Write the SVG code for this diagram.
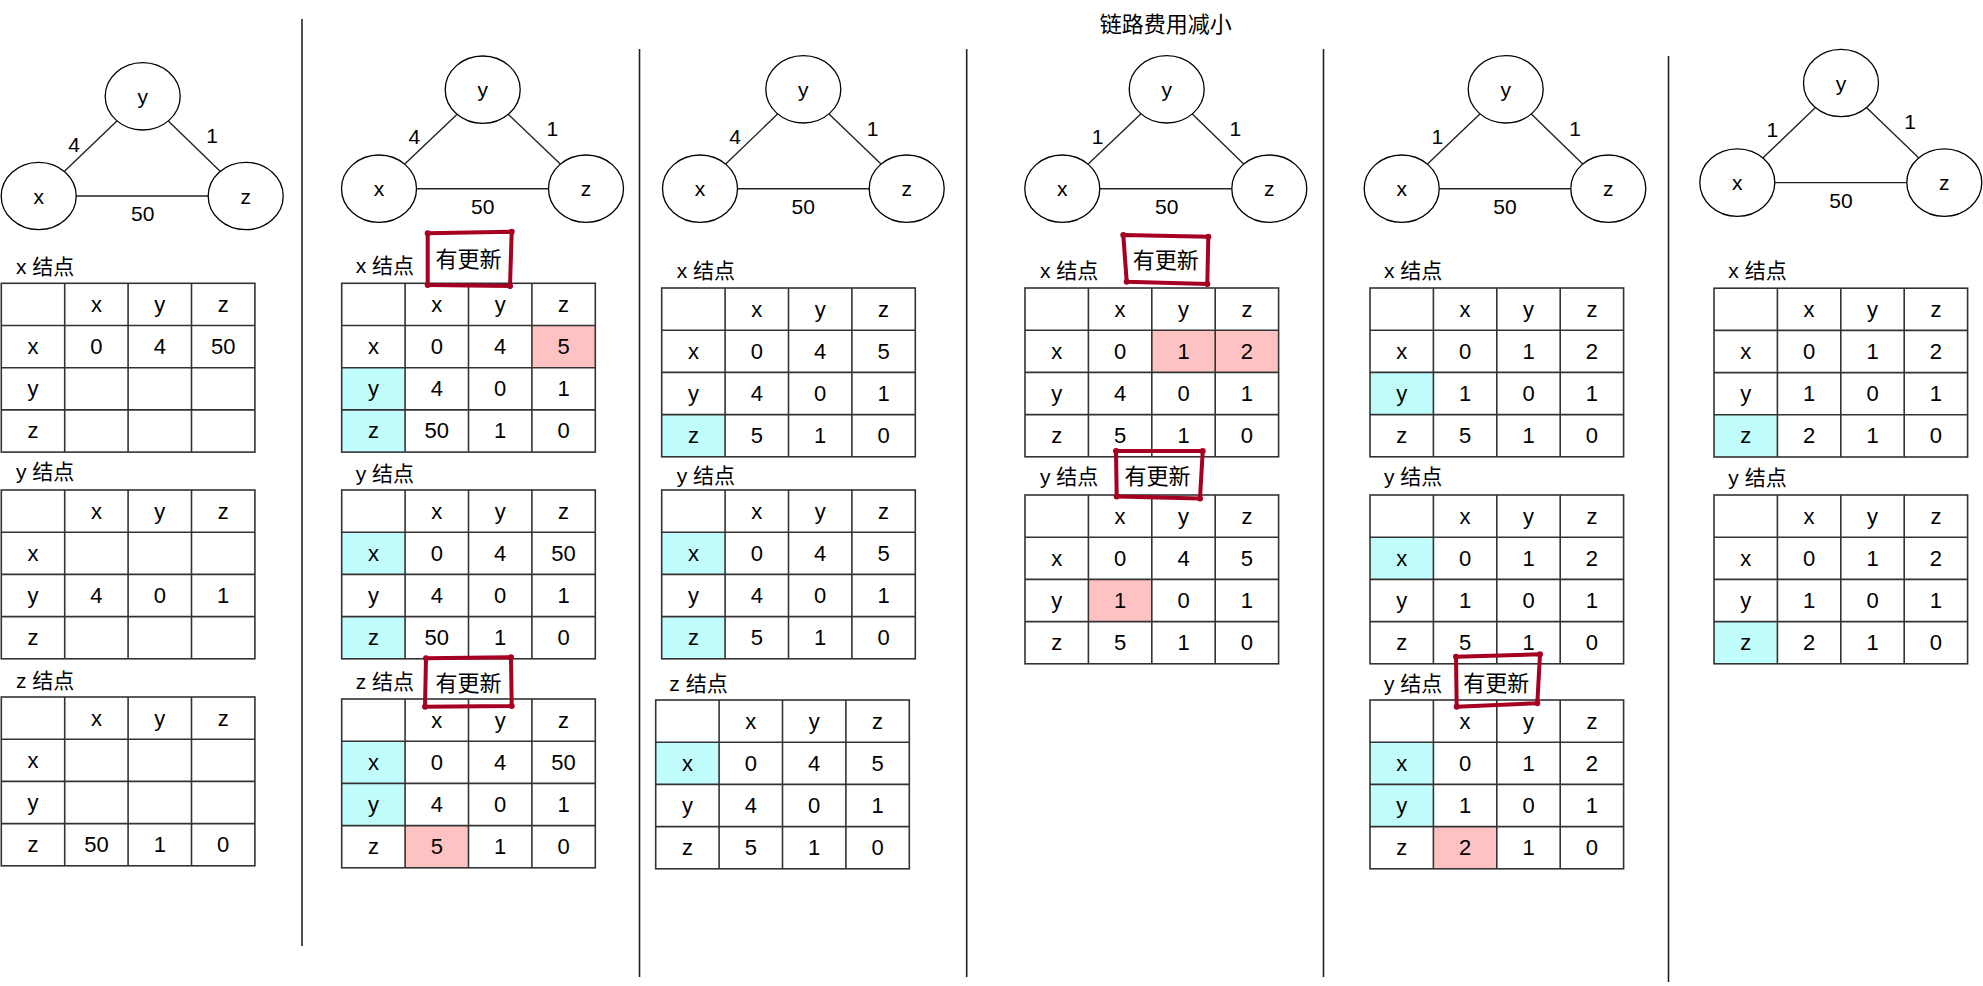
<svg xmlns="http://www.w3.org/2000/svg" xmlns:xlink="http://www.w3.org/1999/xlink" width="1983" height="986" viewBox="0 0 1983 986">
<style>
text{font-family:"Liberation Sans","Noto Sans CJK SC",sans-serif;fill:#000;}
.t{font-size:22px;text-anchor:middle;dominant-baseline:central;}
.n{font-size:21px;text-anchor:middle;dominant-baseline:central;}
.lbl{font-size:21px;dominant-baseline:central;}
.title{font-size:22px;text-anchor:middle;dominant-baseline:central;}
.upd{font-size:22px;text-anchor:middle;dominant-baseline:central;}
.node{fill:#fff;stroke:#000;stroke-width:1.3;}
.edge{stroke:#222;stroke-width:1.4;fill:none;}
.sep{stroke:#222;stroke-width:1.6;}
.grid{fill:none;stroke:#333;stroke-width:1.6;}
.cy{fill:#C2FDFD;}
.pk{fill:#FFC2C2;}
.box{fill:none;stroke:#A50021;stroke-width:4;stroke-linejoin:round;stroke-linecap:round;}
.dot{fill:#A50021;}
</style>
<defs>
<g id="grid">
<rect class="grid" x="0" y="0" width="253.6" height="168.8"/>
<path class="grid" d="M63.4 0V168.8M126.8 0V168.8M190.2 0V168.8M0 42.2H253.6M0 84.4H253.6M0 126.6H253.6"/>
</g>
</defs>
<rect width="1983" height="986" fill="#fff"/>

<text id="title" class="title" x="1165.7" y="24">链路费用减小</text>

<g id="separators">
<line class="sep" x1="302" y1="19" x2="302" y2="946"/>
<line class="sep" x1="639.5" y1="49" x2="639.5" y2="977"/>
<line class="sep" x1="966.7" y1="49" x2="966.7" y2="977"/>
<line class="sep" x1="1323.5" y1="49" x2="1323.5" y2="977"/>
<line class="sep" x1="1668.5" y1="56" x2="1668.5" y2="982"/>
</g>

<g id="connectors">
<line class="edge" x1="64.5" y1="171.3" x2="116.9" y2="121"/>
<line class="edge" x1="168.3" y1="121.1" x2="220.1" y2="171.2"/>
<line class="edge" x1="76.2" y1="196" x2="208.2" y2="196"/>
<text class="n" x="74" y="144">4</text>
<text class="n" x="212" y="135">1</text>
<text class="n" x="142.7" y="213">50</text>

<line class="edge" x1="404.8" y1="164" x2="456.9" y2="114.4"/>
<line class="edge" x1="508.4" y1="114.4" x2="560.3" y2="164"/>
<line class="edge" x1="416.5" y1="188.7" x2="548.5" y2="188.7"/>
<text class="n" x="414.3" y="136">4</text>
<text class="n" x="552.3" y="128">1</text>
<text class="n" x="482.7" y="206">50</text>

<line class="edge" x1="725.7" y1="164" x2="777.6" y2="114"/>
<line class="edge" x1="829" y1="114" x2="881" y2="164"/>
<line class="edge" x1="737.5" y1="188.7" x2="869.2" y2="188.7"/>
<text class="n" x="735" y="136.7">4</text>
<text class="n" x="872.7" y="128.3">1</text>
<text class="n" x="803.3" y="206.7">50</text>

<line class="edge" x1="1088.2" y1="164.1" x2="1140.8" y2="113.9"/>
<line class="edge" x1="1192.3" y1="114.1" x2="1243.7" y2="163.9"/>
<line class="edge" x1="1099.8" y1="188.7" x2="1231.8" y2="188.7"/>
<text class="n" x="1097.7" y="136.7">1</text>
<text class="n" x="1235.3" y="128.3">1</text>
<text class="n" x="1166.7" y="206.7">50</text>

<line class="edge" x1="1427.5" y1="164" x2="1479.9" y2="114"/>
<line class="edge" x1="1531.3" y1="114.1" x2="1582.7" y2="163.9"/>
<line class="edge" x1="1439.2" y1="188.7" x2="1570.8" y2="188.7"/>
<text class="n" x="1437.3" y="136.7">1</text>
<text class="n" x="1575" y="128.3">1</text>
<text class="n" x="1505" y="206.7">50</text>

<line class="edge" x1="1763.1" y1="157.8" x2="1815.2" y2="107.8"/>
<line class="edge" x1="1866.7" y1="107.8" x2="1918.6" y2="157.8"/>
<line class="edge" x1="1774.8" y1="182.6" x2="1906.8" y2="182.6"/>
<text class="n" x="1772.3" y="129.8">1</text>
<text class="n" x="1910" y="121">1</text>
<text class="n" x="1841" y="200.2">50</text>
</g>

<!-- Panel 1 -->
<g id="p1-node-y"><ellipse class="node" cx="142.7" cy="96.3" rx="37.5" ry="33.7"/><text class="n" x="142.7" y="96.3">y</text></g>
<g id="p1-node-x"><ellipse class="node" cx="38.7" cy="196" rx="37.5" ry="33.7"/><text class="n" x="38.7" y="196">x</text></g>
<g id="p1-node-z"><ellipse class="node" cx="245.7" cy="196" rx="37.5" ry="33.7"/><text class="n" x="245.7" y="196">z</text></g>
<text class="lbl" x="16" y="266">x 结点</text>
<text class="lbl" x="16" y="471.7">y 结点</text>
<text class="lbl" x="16" y="680">z 结点</text>

<g id="p1-table-x" transform="translate(1.3,283.3)">
<use href="#grid"/>
<text class="t" x="95.1" y="21.1">x</text><text class="t" x="158.5" y="21.1">y</text><text class="t" x="221.9" y="21.1">z</text>
<text class="t" x="31.7" y="63.3">x</text><text class="t" x="95.1" y="63.3">0</text><text class="t" x="158.5" y="63.3">4</text><text class="t" x="221.9" y="63.3">50</text>
<text class="t" x="31.7" y="105.5">y</text>
<text class="t" x="31.7" y="147.7">z</text>
</g>
<g id="p1-table-y" transform="translate(1.3,490)">
<use href="#grid"/>
<text class="t" x="95.1" y="21.1">x</text><text class="t" x="158.5" y="21.1">y</text><text class="t" x="221.9" y="21.1">z</text>
<text class="t" x="31.7" y="63.3">x</text>
<text class="t" x="31.7" y="105.5">y</text><text class="t" x="95.1" y="105.5">4</text><text class="t" x="158.5" y="105.5">0</text><text class="t" x="221.9" y="105.5">1</text>
<text class="t" x="31.7" y="147.7">z</text>
</g>
<g id="p1-table-z" transform="translate(1.3,697)">
<use href="#grid"/>
<text class="t" x="95.1" y="21.1">x</text><text class="t" x="158.5" y="21.1">y</text><text class="t" x="221.9" y="21.1">z</text>
<text class="t" x="31.7" y="63.3">x</text>
<text class="t" x="31.7" y="105.5">y</text>
<text class="t" x="31.7" y="147.7">z</text><text class="t" x="95.1" y="147.7">50</text><text class="t" x="158.5" y="147.7">1</text><text class="t" x="221.9" y="147.7">0</text>
</g>

<!-- Panel 2 -->
<g id="p2-node-y"><ellipse class="node" cx="482.7" cy="89.7" rx="37.5" ry="33.7"/><text class="n" x="482.7" y="89.7">y</text></g>
<g id="p2-node-x"><ellipse class="node" cx="379" cy="188.7" rx="37.5" ry="33.7"/><text class="n" x="379" y="188.7">x</text></g>
<g id="p2-node-z"><ellipse class="node" cx="586" cy="188.7" rx="37.5" ry="33.7"/><text class="n" x="586" y="188.7">z</text></g>
<text class="lbl" x="355.7" y="265">x 结点</text>
<text class="lbl" x="355.7" y="473">y 结点</text>
<text class="lbl" x="355.7" y="681.7">z 结点</text>

<g id="p2-table-x" transform="translate(341.7,283.3)">
<rect class="pk" x="190.2" y="42.2" width="63.4" height="42.2"/>
<rect class="cy" x="0" y="84.4" width="63.4" height="84.4"/>
<use href="#grid"/>
<text class="t" x="95.1" y="21.1">x</text><text class="t" x="158.5" y="21.1">y</text><text class="t" x="221.9" y="21.1">z</text>
<text class="t" x="31.7" y="63.3">x</text><text class="t" x="95.1" y="63.3">0</text><text class="t" x="158.5" y="63.3">4</text><text class="t" x="221.9" y="63.3">5</text>
<text class="t" x="31.7" y="105.5">y</text><text class="t" x="95.1" y="105.5">4</text><text class="t" x="158.5" y="105.5">0</text><text class="t" x="221.9" y="105.5">1</text>
<text class="t" x="31.7" y="147.7">z</text><text class="t" x="95.1" y="147.7">50</text><text class="t" x="158.5" y="147.7">1</text><text class="t" x="221.9" y="147.7">0</text>
</g>
<g id="p2-table-y" transform="translate(341.7,490)">
<rect class="cy" x="0" y="42.2" width="63.4" height="42.2"/>
<rect class="cy" x="0" y="126.6" width="63.4" height="42.2"/>
<use href="#grid"/>
<text class="t" x="95.1" y="21.1">x</text><text class="t" x="158.5" y="21.1">y</text><text class="t" x="221.9" y="21.1">z</text>
<text class="t" x="31.7" y="63.3">x</text><text class="t" x="95.1" y="63.3">0</text><text class="t" x="158.5" y="63.3">4</text><text class="t" x="221.9" y="63.3">50</text>
<text class="t" x="31.7" y="105.5">y</text><text class="t" x="95.1" y="105.5">4</text><text class="t" x="158.5" y="105.5">0</text><text class="t" x="221.9" y="105.5">1</text>
<text class="t" x="31.7" y="147.7">z</text><text class="t" x="95.1" y="147.7">50</text><text class="t" x="158.5" y="147.7">1</text><text class="t" x="221.9" y="147.7">0</text>
</g>
<g id="p2-table-z" transform="translate(341.7,699)">
<rect class="cy" x="0" y="42.2" width="63.4" height="84.4"/>
<rect class="pk" x="63.4" y="126.6" width="63.4" height="42.2"/>
<use href="#grid"/>
<text class="t" x="95.1" y="21.1">x</text><text class="t" x="158.5" y="21.1">y</text><text class="t" x="221.9" y="21.1">z</text>
<text class="t" x="31.7" y="63.3">x</text><text class="t" x="95.1" y="63.3">0</text><text class="t" x="158.5" y="63.3">4</text><text class="t" x="221.9" y="63.3">50</text>
<text class="t" x="31.7" y="105.5">y</text><text class="t" x="95.1" y="105.5">4</text><text class="t" x="158.5" y="105.5">0</text><text class="t" x="221.9" y="105.5">1</text>
<text class="t" x="31.7" y="147.7">z</text><text class="t" x="95.1" y="147.7">5</text><text class="t" x="158.5" y="147.7">1</text><text class="t" x="221.9" y="147.7">0</text>
</g>
<g id="p2-update-x">
<path class="box" d="M427.7 233.3L511.7 231.7L510 286L427.7 285Z"/>
<circle class="dot" cx="427.7" cy="233.3" r="3"/><circle class="dot" cx="511.7" cy="231.7" r="3"/><circle class="dot" cx="510" cy="286" r="3"/><circle class="dot" cx="427.7" cy="285" r="3"/>
<text class="upd" x="468.5" y="259.7">有更新</text>
</g>
<g id="p2-update-z">
<path class="box" d="M426 658.3L511 657.3L511.7 706L425 706.7Z"/>
<circle class="dot" cx="426" cy="658.3" r="3"/><circle class="dot" cx="511" cy="657.3" r="3"/><circle class="dot" cx="511.7" cy="706" r="3"/><circle class="dot" cx="425" cy="706.7" r="3"/>
<text class="upd" x="468.5" y="683">有更新</text>
</g>

<!-- Panel 3 -->
<g id="p3-node-y"><ellipse class="node" cx="803.3" cy="89.3" rx="37.5" ry="33.7"/><text class="n" x="803.3" y="89.3">y</text></g>
<g id="p3-node-x"><ellipse class="node" cx="700" cy="188.7" rx="37.5" ry="33.7"/><text class="n" x="700" y="188.7">x</text></g>
<g id="p3-node-z"><ellipse class="node" cx="906.7" cy="188.7" rx="37.5" ry="33.7"/><text class="n" x="906.7" y="188.7">z</text></g>
<text class="lbl" x="676.7" y="270.7">x 结点</text>
<text class="lbl" x="676.7" y="475">y 结点</text>
<text class="lbl" x="669.3" y="683.3">z 结点</text>

<g id="p3-table-x" transform="translate(661.7,288)">
<rect class="cy" x="0" y="126.6" width="63.4" height="42.2"/>
<use href="#grid"/>
<text class="t" x="95.1" y="21.1">x</text><text class="t" x="158.5" y="21.1">y</text><text class="t" x="221.9" y="21.1">z</text>
<text class="t" x="31.7" y="63.3">x</text><text class="t" x="95.1" y="63.3">0</text><text class="t" x="158.5" y="63.3">4</text><text class="t" x="221.9" y="63.3">5</text>
<text class="t" x="31.7" y="105.5">y</text><text class="t" x="95.1" y="105.5">4</text><text class="t" x="158.5" y="105.5">0</text><text class="t" x="221.9" y="105.5">1</text>
<text class="t" x="31.7" y="147.7">z</text><text class="t" x="95.1" y="147.7">5</text><text class="t" x="158.5" y="147.7">1</text><text class="t" x="221.9" y="147.7">0</text>
</g>
<g id="p3-table-y" transform="translate(661.7,490)">
<rect class="cy" x="0" y="42.2" width="63.4" height="42.2"/>
<rect class="cy" x="0" y="126.6" width="63.4" height="42.2"/>
<use href="#grid"/>
<text class="t" x="95.1" y="21.1">x</text><text class="t" x="158.5" y="21.1">y</text><text class="t" x="221.9" y="21.1">z</text>
<text class="t" x="31.7" y="63.3">x</text><text class="t" x="95.1" y="63.3">0</text><text class="t" x="158.5" y="63.3">4</text><text class="t" x="221.9" y="63.3">5</text>
<text class="t" x="31.7" y="105.5">y</text><text class="t" x="95.1" y="105.5">4</text><text class="t" x="158.5" y="105.5">0</text><text class="t" x="221.9" y="105.5">1</text>
<text class="t" x="31.7" y="147.7">z</text><text class="t" x="95.1" y="147.7">5</text><text class="t" x="158.5" y="147.7">1</text><text class="t" x="221.9" y="147.7">0</text>
</g>
<g id="p3-table-z" transform="translate(655.7,700)">
<rect class="cy" x="0" y="42.2" width="63.4" height="42.2"/>
<use href="#grid"/>
<text class="t" x="95.1" y="21.1">x</text><text class="t" x="158.5" y="21.1">y</text><text class="t" x="221.9" y="21.1">z</text>
<text class="t" x="31.7" y="63.3">x</text><text class="t" x="95.1" y="63.3">0</text><text class="t" x="158.5" y="63.3">4</text><text class="t" x="221.9" y="63.3">5</text>
<text class="t" x="31.7" y="105.5">y</text><text class="t" x="95.1" y="105.5">4</text><text class="t" x="158.5" y="105.5">0</text><text class="t" x="221.9" y="105.5">1</text>
<text class="t" x="31.7" y="147.7">z</text><text class="t" x="95.1" y="147.7">5</text><text class="t" x="158.5" y="147.7">1</text><text class="t" x="221.9" y="147.7">0</text>
</g>

<!-- Panel 4 -->
<g id="p4-node-y"><ellipse class="node" cx="1166.7" cy="89.3" rx="37.5" ry="33.7"/><text class="n" x="1166.7" y="89.3">y</text></g>
<g id="p4-node-x"><ellipse class="node" cx="1062.3" cy="188.7" rx="37.5" ry="33.7"/><text class="n" x="1062.3" y="188.7">x</text></g>
<g id="p4-node-z"><ellipse class="node" cx="1269.3" cy="188.7" rx="37.5" ry="33.7"/><text class="n" x="1269.3" y="188.7">z</text></g>
<text class="lbl" x="1040" y="270.7">x 结点</text>
<text class="lbl" x="1040" y="476.6">y 结点</text>

<g id="p4-table-x" transform="translate(1025,288)">
<rect class="pk" x="126.8" y="42.2" width="126.8" height="42.2"/>
<use href="#grid"/>
<text class="t" x="95.1" y="21.1">x</text><text class="t" x="158.5" y="21.1">y</text><text class="t" x="221.9" y="21.1">z</text>
<text class="t" x="31.7" y="63.3">x</text><text class="t" x="95.1" y="63.3">0</text><text class="t" x="158.5" y="63.3">1</text><text class="t" x="221.9" y="63.3">2</text>
<text class="t" x="31.7" y="105.5">y</text><text class="t" x="95.1" y="105.5">4</text><text class="t" x="158.5" y="105.5">0</text><text class="t" x="221.9" y="105.5">1</text>
<text class="t" x="31.7" y="147.7">z</text><text class="t" x="95.1" y="147.7">5</text><text class="t" x="158.5" y="147.7">1</text><text class="t" x="221.9" y="147.7">0</text>
</g>
<g id="p4-table-y" transform="translate(1025,495)">
<rect class="pk" x="63.4" y="84.4" width="63.4" height="42.2"/>
<use href="#grid"/>
<text class="t" x="95.1" y="21.1">x</text><text class="t" x="158.5" y="21.1">y</text><text class="t" x="221.9" y="21.1">z</text>
<text class="t" x="31.7" y="63.3">x</text><text class="t" x="95.1" y="63.3">0</text><text class="t" x="158.5" y="63.3">4</text><text class="t" x="221.9" y="63.3">5</text>
<text class="t" x="31.7" y="105.5">y</text><text class="t" x="95.1" y="105.5">1</text><text class="t" x="158.5" y="105.5">0</text><text class="t" x="221.9" y="105.5">1</text>
<text class="t" x="31.7" y="147.7">z</text><text class="t" x="95.1" y="147.7">5</text><text class="t" x="158.5" y="147.7">1</text><text class="t" x="221.9" y="147.7">0</text>
</g>
<g id="p4-update-x">
<path class="box" d="M1123.3 235L1208.3 236.7L1207.3 284L1126.7 281.7Z"/>
<circle class="dot" cx="1123.3" cy="235" r="3"/><circle class="dot" cx="1208.3" cy="236.7" r="3"/><circle class="dot" cx="1207.3" cy="284" r="3"/><circle class="dot" cx="1126.7" cy="281.7" r="3"/>
<text class="upd" x="1165.8" y="260">有更新</text>
</g>
<g id="p4-update-y">
<path class="box" d="M1116 451.1L1202.7 451.1L1200 498.5L1116.7 496.4Z"/>
<circle class="dot" cx="1116" cy="451.1" r="3"/><circle class="dot" cx="1202.7" cy="451.1" r="3"/><circle class="dot" cx="1200" cy="498.5" r="3"/><circle class="dot" cx="1116.7" cy="496.4" r="3"/>
<text class="upd" x="1157.5" y="476.5">有更新</text>
</g>

<!-- Panel 5 -->
<g id="p5-node-y"><ellipse class="node" cx="1505.7" cy="89.3" rx="37.5" ry="33.7"/><text class="n" x="1505.7" y="89.3">y</text></g>
<g id="p5-node-x"><ellipse class="node" cx="1401.7" cy="188.7" rx="37.5" ry="33.7"/><text class="n" x="1401.7" y="188.7">x</text></g>
<g id="p5-node-z"><ellipse class="node" cx="1608.3" cy="188.7" rx="37.5" ry="33.7"/><text class="n" x="1608.3" y="188.7">z</text></g>
<text class="lbl" x="1384" y="270.7">x 结点</text>
<text class="lbl" x="1384" y="476.7">y 结点</text>
<text class="lbl" x="1384" y="683.3">y 结点</text>

<g id="p5-table-x" transform="translate(1370,288)">
<rect class="cy" x="0" y="84.4" width="63.4" height="42.2"/>
<use href="#grid"/>
<text class="t" x="95.1" y="21.1">x</text><text class="t" x="158.5" y="21.1">y</text><text class="t" x="221.9" y="21.1">z</text>
<text class="t" x="31.7" y="63.3">x</text><text class="t" x="95.1" y="63.3">0</text><text class="t" x="158.5" y="63.3">1</text><text class="t" x="221.9" y="63.3">2</text>
<text class="t" x="31.7" y="105.5">y</text><text class="t" x="95.1" y="105.5">1</text><text class="t" x="158.5" y="105.5">0</text><text class="t" x="221.9" y="105.5">1</text>
<text class="t" x="31.7" y="147.7">z</text><text class="t" x="95.1" y="147.7">5</text><text class="t" x="158.5" y="147.7">1</text><text class="t" x="221.9" y="147.7">0</text>
</g>
<g id="p5-table-y" transform="translate(1370,495)">
<rect class="cy" x="0" y="42.2" width="63.4" height="42.2"/>
<use href="#grid"/>
<text class="t" x="95.1" y="21.1">x</text><text class="t" x="158.5" y="21.1">y</text><text class="t" x="221.9" y="21.1">z</text>
<text class="t" x="31.7" y="63.3">x</text><text class="t" x="95.1" y="63.3">0</text><text class="t" x="158.5" y="63.3">1</text><text class="t" x="221.9" y="63.3">2</text>
<text class="t" x="31.7" y="105.5">y</text><text class="t" x="95.1" y="105.5">1</text><text class="t" x="158.5" y="105.5">0</text><text class="t" x="221.9" y="105.5">1</text>
<text class="t" x="31.7" y="147.7">z</text><text class="t" x="95.1" y="147.7">5</text><text class="t" x="158.5" y="147.7">1</text><text class="t" x="221.9" y="147.7">0</text>
</g>
<g id="p5-table-y2" transform="translate(1370,700)">
<rect class="cy" x="0" y="42.2" width="63.4" height="84.4"/>
<rect class="pk" x="63.4" y="126.6" width="63.4" height="42.2"/>
<use href="#grid"/>
<text class="t" x="95.1" y="21.1">x</text><text class="t" x="158.5" y="21.1">y</text><text class="t" x="221.9" y="21.1">z</text>
<text class="t" x="31.7" y="63.3">x</text><text class="t" x="95.1" y="63.3">0</text><text class="t" x="158.5" y="63.3">1</text><text class="t" x="221.9" y="63.3">2</text>
<text class="t" x="31.7" y="105.5">y</text><text class="t" x="95.1" y="105.5">1</text><text class="t" x="158.5" y="105.5">0</text><text class="t" x="221.9" y="105.5">1</text>
<text class="t" x="31.7" y="147.7">z</text><text class="t" x="95.1" y="147.7">2</text><text class="t" x="158.5" y="147.7">1</text><text class="t" x="221.9" y="147.7">0</text>
</g>
<g id="p5-update-y">
<path class="box" d="M1456 656.7L1540 654.3L1537.3 703.3L1456.7 706.7Z"/>
<circle class="dot" cx="1456" cy="656.7" r="3"/><circle class="dot" cx="1540" cy="654.3" r="3"/><circle class="dot" cx="1537.3" cy="703.3" r="3"/><circle class="dot" cx="1456.7" cy="706.7" r="3"/>
<text class="upd" x="1496.3" y="683">有更新</text>
</g>

<!-- Panel 6 -->
<g id="p6-node-y"><ellipse class="node" cx="1841" cy="83" rx="37.5" ry="33.7"/><text class="n" x="1841" y="83">y</text></g>
<g id="p6-node-x"><ellipse class="node" cx="1737.3" cy="182.6" rx="37.5" ry="33.7"/><text class="n" x="1737.3" y="182.6">x</text></g>
<g id="p6-node-z"><ellipse class="node" cx="1944.3" cy="182.6" rx="37.5" ry="33.7"/><text class="n" x="1944.3" y="182.6">z</text></g>
<text class="lbl" x="1728.3" y="270.6">x 结点</text>
<text class="lbl" x="1728.3" y="477.3">y 结点</text>

<g id="p6-table-x" transform="translate(1714,288.2)">
<rect class="cy" x="0" y="126.6" width="63.4" height="42.2"/>
<use href="#grid"/>
<text class="t" x="95.1" y="21.1">x</text><text class="t" x="158.5" y="21.1">y</text><text class="t" x="221.9" y="21.1">z</text>
<text class="t" x="31.7" y="63.3">x</text><text class="t" x="95.1" y="63.3">0</text><text class="t" x="158.5" y="63.3">1</text><text class="t" x="221.9" y="63.3">2</text>
<text class="t" x="31.7" y="105.5">y</text><text class="t" x="95.1" y="105.5">1</text><text class="t" x="158.5" y="105.5">0</text><text class="t" x="221.9" y="105.5">1</text>
<text class="t" x="31.7" y="147.7">z</text><text class="t" x="95.1" y="147.7">2</text><text class="t" x="158.5" y="147.7">1</text><text class="t" x="221.9" y="147.7">0</text>
</g>
<g id="p6-table-y" transform="translate(1714,495)">
<rect class="cy" x="0" y="126.6" width="63.4" height="42.2"/>
<use href="#grid"/>
<text class="t" x="95.1" y="21.1">x</text><text class="t" x="158.5" y="21.1">y</text><text class="t" x="221.9" y="21.1">z</text>
<text class="t" x="31.7" y="63.3">x</text><text class="t" x="95.1" y="63.3">0</text><text class="t" x="158.5" y="63.3">1</text><text class="t" x="221.9" y="63.3">2</text>
<text class="t" x="31.7" y="105.5">y</text><text class="t" x="95.1" y="105.5">1</text><text class="t" x="158.5" y="105.5">0</text><text class="t" x="221.9" y="105.5">1</text>
<text class="t" x="31.7" y="147.7">z</text><text class="t" x="95.1" y="147.7">2</text><text class="t" x="158.5" y="147.7">1</text><text class="t" x="221.9" y="147.7">0</text>
</g>
</svg>
